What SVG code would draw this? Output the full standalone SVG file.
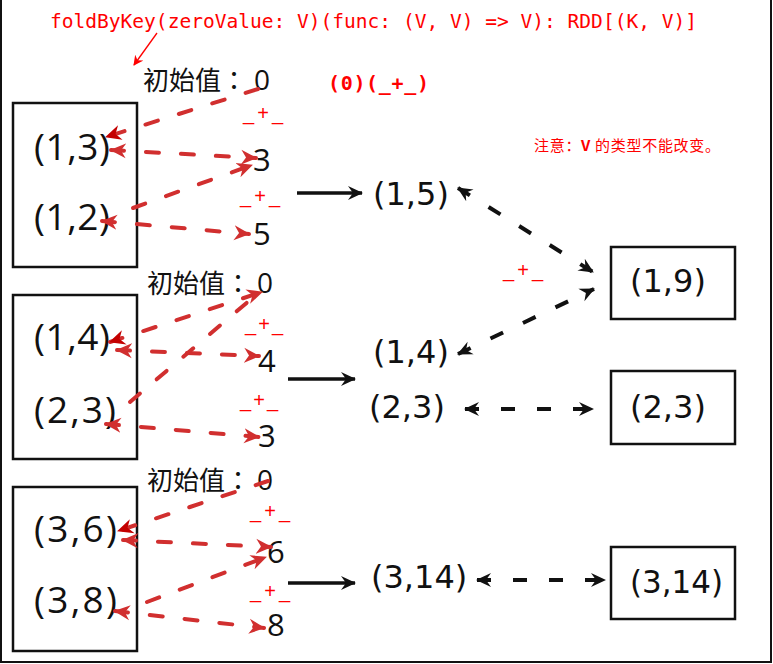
<svg xmlns="http://www.w3.org/2000/svg" width="773" height="664" viewBox="0 0 773 664">
<style>
.box{fill:#fff;stroke:#111;stroke-width:2.5}
.lbl{font-family:"Open Sans","Liberation Sans",sans-serif;fill:#111}
.big{font-size:37px}
.mid{font-family:"DejaVu Sans","Open Sans",sans-serif;font-size:32px;fill:#111}
.num{font-size:31px}
.zero{font-size:28px}
.cjk{font-family:"Noto Sans CJK TC","Noto Sans CJK SC",sans-serif;font-size:26px;fill:#111}
.plus{font-family:"Liberation Sans",sans-serif;font-size:20px;fill:#f00}
.rd{fill:none;stroke:#d12f2f;stroke-width:4;stroke-dasharray:13 22;stroke-linecap:round}
.bd{fill:none;stroke:#111;stroke-width:4;stroke-dasharray:14 22}
.bs{fill:none;stroke:#111;stroke-width:3.5}
</style>
<defs>
<marker id="rh" markerUnits="userSpaceOnUse" markerWidth="17" markerHeight="17" refX="15" refY="8.5" orient="auto-start-reverse"><path d="M0,1 L16,8.5 L0,16 L5,8.5 z" fill="#d12f2f"/></marker>
<marker id="rhd" markerUnits="userSpaceOnUse" markerWidth="17" markerHeight="17" refX="15" refY="8.5" orient="auto-start-reverse"><path d="M0,1 L16,8.5 L0,16 L5,8.5 z" fill="#c40000"/></marker>
<marker id="bh" markerUnits="userSpaceOnUse" markerWidth="16" markerHeight="16" refX="14" refY="8" orient="auto-start-reverse"><path d="M0,1 L15,8 L0,15 L5,8 z" fill="#111"/></marker>
<marker id="th" markerUnits="userSpaceOnUse" markerWidth="10" markerHeight="10" refX="9" refY="5" orient="auto"><path d="M0,0 L10,5 L0,10 L3,5 z" fill="#f00"/></marker>
</defs>
<rect width="773" height="664" fill="#fff"/>
<path d="M1,0 V662 H771 V0" fill="none" stroke="#111" stroke-width="2"/>

<g id="title">
<text x="50" y="28" font-family="DejaVu Sans Mono,monospace" font-size="19" fill="#f00" textLength="647" lengthAdjust="spacingAndGlyphs">foldByKey(zeroValue: V)(func: (V, V) =&gt; V): RDD[(K, V)]</text>
<line x1="157" y1="33" x2="134" y2="65" stroke="#f00" stroke-width="1.3" marker-end="url(#th)"/>
</g>
<g id="func">
<text x="328" y="90" font-family="DejaVu Sans Mono,monospace" font-weight="bold" font-size="20" fill="#f00" textLength="101">(0)(_+_)</text>
</g>
<g id="note">
<text x="534" y="151" font-family="Noto Sans CJK SC,sans-serif" font-size="15" fill="#f00" textLength="186">注意：<tspan font-weight="bold">V</tspan> 的类型不能改变。</text>
</g>

<g id="p1">
<rect class="box" x="13" y="103" width="124" height="164"/>
<text class="lbl big" x="34" y="160" textLength="76">(1,3)</text>
<text class="lbl big" x="34" y="230" textLength="76">(1,2)</text>
</g>
<g id="p2">
<rect class="box" x="13" y="295" width="124" height="164"/>
<text class="lbl big" x="34" y="350" textLength="76">(1,4)</text>
<text class="lbl big" x="34" y="423" textLength="82">(2,3)</text>
</g>
<g id="p3">
<rect class="box" x="13" y="487" width="124" height="164"/>
<text class="lbl big" x="34" y="542" textLength="83">(3,6)</text>
<text class="lbl big" x="34" y="613" textLength="83">(3,8)</text>
</g>

<g id="init1"><text class="cjk" x="143" y="90">初始值：</text><text class="lbl zero" x="254" y="90">0</text></g>
<g id="init2"><text class="cjk" x="147" y="293">初始值：</text><text class="lbl zero" x="257" y="293">0</text></g>
<g id="init3"><text class="cjk" x="147" y="490">初始值：</text><text class="lbl zero" x="257" y="490">0</text></g>

<g id="ops">
<text class="plus" x="243" y="120" textLength="40" lengthAdjust="spacing">_+_</text>
<text class="plus" x="240" y="203" textLength="40" lengthAdjust="spacing">_+_</text>
<text class="plus" x="245" y="331" textLength="38" lengthAdjust="spacing">_+_</text>
<text class="plus" x="240" y="407" textLength="38" lengthAdjust="spacing">_+_</text>
<text class="plus" x="250" y="518" textLength="40" lengthAdjust="spacing">_+_</text>
<text class="plus" x="250" y="598" textLength="40" lengthAdjust="spacing">_+_</text>
<text class="plus" x="503" y="277" textLength="40" lengthAdjust="spacing">_+_</text>
</g>

<g id="vals">
<text class="lbl num" x="253" y="171">3</text>
<text class="lbl num" x="253" y="245">5</text>
<text class="lbl num" x="258" y="372">4</text>
<text class="lbl num" x="258" y="447">3</text>
<text class="lbl num" x="267" y="563">6</text>
<text class="lbl num" x="267" y="636">8</text>
</g>

<g id="m15"><text class="mid" x="373" y="205">(1,5)</text></g>
<g id="m14"><text class="mid" x="373" y="363">(1,4)</text></g>
<g id="m23"><text class="mid" x="369" y="418">(2,3)</text></g>
<g id="m314"><text class="mid" x="371" y="588">(3,14)</text></g>

<g id="r19">
<rect class="box" x="611" y="247" width="124" height="72"/>
<text class="mid" x="630" y="292">(1,9)</text>
</g>
<g id="r23">
<rect class="box" x="611" y="371" width="124" height="73"/>
<text class="mid" x="630" y="418">(2,3)</text>
</g>
<g id="r314">
<rect class="box" x="611" y="547" width="124" height="72"/>
<text class="mid" x="630" y="593" textLength="93" lengthAdjust="spacingAndGlyphs">(3,14)</text>
</g>

<g id="connectors">
<path class="rd" d="M258,89 L106,137" marker-end="url(#rhd)"/>
<path class="rd" d="M111,150 L256,158" marker-start="url(#rh)" marker-end="url(#rh)"/>
<path class="rd" d="M133,208 L252,165" marker-end="url(#rh)"/>
<path class="rd" d="M102,221 L249,234" marker-start="url(#rh)" marker-end="url(#rh)"/>

<path class="rd" d="M110,342 L262,292" marker-start="url(#rhd)" marker-end="url(#rh)"/>
<path class="rd" d="M117,350 L259,356" marker-start="url(#rh)" marker-end="url(#rh)"/>
<path class="rd" d="M130,402 L250,300"/>
<path class="rd" d="M106,424 L259,437" marker-start="url(#rh)" marker-end="url(#rh)"/>

<path class="rd" d="M268,481 L118,531" marker-end="url(#rhd)"/>
<path class="rd" d="M123,540 L271,547" marker-start="url(#rh)" marker-end="url(#rh)"/>
<path class="rd" d="M147,602 L266,557" marker-end="url(#rh)"/>
<path class="rd" d="M115,611 L264,628" marker-start="url(#rh)" marker-end="url(#rh)"/>

<path class="bs" d="M297,193 H362" marker-end="url(#bh)"/>
<path class="bs" d="M288,379 H355" marker-end="url(#bh)"/>
<path class="bs" d="M288,583 H355" marker-end="url(#bh)"/>

<path class="bd" d="M458,188 L593,272" marker-start="url(#bh)" marker-end="url(#bh)"/>
<path class="bd" d="M458,354 L594,289" marker-start="url(#bh)" marker-end="url(#bh)"/>
<path class="bd" d="M465,409 L593,409" marker-start="url(#bh)" marker-end="url(#bh)"/>
<path class="bd" d="M477,580 L605,580" marker-start="url(#bh)" marker-end="url(#bh)"/>
</g>
</svg>
